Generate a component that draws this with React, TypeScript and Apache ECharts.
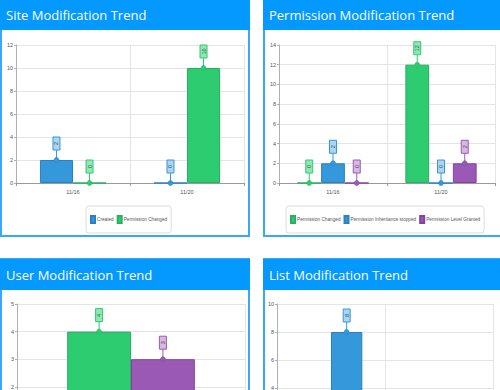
import React, { useEffect, useRef } from "react";
import * as echarts from "echarts";

// ---- data ----
const siteCategories = ["11/16", "11/20"];
const siteCreated = [2, 0];
const sitePermissionChanged = [0, 10];

const permCategories = ["11/16", "11/20"];
const permChanged = [0, 12];
const permInheritanceStopped = [2, 0];
const permLevelGranted = [0, 2];

const userCategories = ["11/20"];
const userPermissionChanged = [4];
const userPermissionLevelGranted = [3];

const listCategories = ["11/16", "11/20"];
const listPermissionChanged = [0, 0];
const listCreated = [8, 0];

const titles = [
  "Site Modification Trend",
  "Permission Modification Trend",
  "User Modification Trend",
  "List Modification Trend",
];
const yMax = [12, 14, 5, 10];
const yInterval = [2, 2, 1, 2];

const PAL: Record<string, { fill: string; border: string; light: string }> = {
  blue: { fill: "#3498db", border: "#2a80c4", light: "#aad5f3" },
  green: { fill: "#2ecc71", border: "#27b062", light: "#8ee8b2" },
  purple: { fill: "#9b59b6", border: "#8244a0", light: "#d6b8e2" },
};

type SDef = { name: string; data: number[]; color: string };

const panels: { cats: string[]; series: SDef[]; ratio: number }[] = [
  {
    cats: siteCategories,
    ratio: 0.29,
    series: [
      { name: "Created", data: siteCreated, color: "blue" },
      { name: "Permission Changed", data: sitePermissionChanged, color: "green" },
    ],
  },
  {
    cats: permCategories,
    ratio: 0.22,
    series: [
      { name: "Permission Changed", data: permChanged, color: "green" },
      { name: "Permission Inheritance stopped", data: permInheritanceStopped, color: "blue" },
      { name: "Permission Level Granted", data: permLevelGranted, color: "purple" },
    ],
  },
  {
    cats: userCategories,
    ratio: 0.28,
    series: [
      { name: "Permission Changed", data: userPermissionChanged, color: "green" },
      { name: "Permission Level Granted", data: userPermissionLevelGranted, color: "purple" },
    ],
  },
  {
    cats: listCategories,
    ratio: 0.29,
    series: [
      { name: "Permission Changed", data: listPermissionChanged, color: "green" },
      { name: "Created", data: listCreated, color: "blue" },
    ],
  },
];

const grids = [
  { left: 16, top: 45, width: 228, height: 138 },
  { left: 279, top: 45, width: 216, height: 138 },
  { left: 17, top: 304, width: 228, height: 138 },
  { left: 277, top: 304, width: 216, height: 140 },
];

const legendPos = [
  { left: 86, top: 206 },
  { left: 286, top: 206 },
  { left: 70, top: 465 },
  { left: 320, top: 465 },
];

const panelBoxes = [
  { x: 0, y: 0, w: 250, h: 237, hh: 30 },
  { x: 263, y: 0, w: 240, h: 237, hh: 30 },
  { x: 0, y: 259, w: 250, h: 240, hh: 31 },
  { x: 263, y: 259, w: 240, h: 240, hh: 31 },
];

const HEADER = "#0399fe";
const BORDER = "#3aa8f8";
const SMALL_FONT = "'Liberation Sans', sans-serif";

function buildOption() {
  const xAxis: any[] = [];
  const yAxis: any[] = [];
  const series: any[] = [];
  const legend: any[] = [];
  const graphic: any[] = [];

  panelBoxes.forEach((p, i) => {
    graphic.push({
      type: "rect",
      shape: { x: p.x + 1, y: p.y, width: p.w - 2, height: p.h - 1 },
      style: { fill: "none", stroke: BORDER, lineWidth: 2 },
      z: 1,
    });
    graphic.push({
      type: "rect",
      shape: { x: p.x, y: p.y, width: p.w, height: p.hh },
      style: { fill: HEADER },
      z: 2,
    });
    graphic.push({
      type: "text",
      x: p.x + 6,
      y: p.y + p.hh / 2,
      style: {
        text: titles[i],
        fill: "#ffffff",
        font: "13px 'Open Sans', sans-serif",
        verticalAlign: "middle",
        align: "left",
      },
      z: 3,
    });
  });

  panels.forEach((panel, gi) => {
    xAxis.push({
      type: "category",
      gridIndex: gi,
      data: panel.cats,
      axisLine: { show: true, lineStyle: { color: "#9a9a9a", width: 1 } },
      axisTick: { show: true, length: 3, lineStyle: { color: "#9a9a9a" } },
      axisLabel: { fontSize: 5.5, color: "#555", margin: 6, fontFamily: SMALL_FONT },
      splitLine: { show: true, lineStyle: { color: "#e4e4e4" } },
    });
    yAxis.push({
      type: "value",
      gridIndex: gi,
      min: 0,
      max: yMax[gi],
      interval: yInterval[gi],
      axisLine: { show: true, lineStyle: { color: "#b0b0b0" } },
      axisTick: { show: true, length: 2, lineStyle: { color: "#b0b0b0" } },
      axisLabel: { fontSize: 5.5, color: "#555", margin: 3, fontFamily: SMALL_FONT },
      splitLine: { show: true, lineStyle: { color: "#e4e4e4" } },
    });
    const n = panel.series.length;
    panel.series.forEach((s, si) => {
      const c = PAL[s.color];
      series.push({
        type: "bar",
        name: s.name,
        xAxisIndex: gi,
        yAxisIndex: gi,
        data: s.data,
        barWidth: panel.ratio * 100 + "%",
        barGap: "0%",
        itemStyle: { color: c.fill, borderColor: c.border, borderWidth: 1 },
        z: 2,
      });
      series.push({
        type: "custom",
        name: "_label_" + gi + "_" + si,
        xAxisIndex: gi,
        yAxisIndex: gi,
        data: s.data.map((v, ci) => [ci, v]),
        encode: { x: 0, y: 1 },
        z: 5,
        clip: false,
        renderItem: (params: any, api: any) => {
          const ci = api.value(0);
          const v = api.value(1);
          const pt = api.coord([ci, v]);
          const cw = api.size([1, 0])[0];
          const w = cw * panel.ratio;
          const x = pt[0] + (si - (n - 1) / 2) * w;
          const y = pt[1];
          return {
            type: "group",
            children: [
              {
                type: "line",
                shape: { x1: x, y1: y, x2: x, y2: y - 10 },
                style: { stroke: c.fill, lineWidth: 1 },
              },
              {
                type: "circle",
                shape: { cx: x, cy: y, r: 2.5 },
                style: { fill: c.fill, stroke: c.border, lineWidth: 0.5 },
              },
              {
                type: "rect",
                shape: { x: x - 3.5, y: y - 23, width: 7, height: 13 },
                style: { fill: c.light, stroke: c.fill, lineWidth: 1 },
              },
              {
                type: "text",
                x: x,
                y: y - 16.5,
                rotation: Math.PI / 2,
                style: {
                  text: String(v),
                  fill: "#444",
                  fontSize: 5.5,
                  fontFamily: SMALL_FONT,
                  align: "center",
                  verticalAlign: "middle",
                },
              },
            ],
          };
        },
      });
    });
    legend.push({
      left: legendPos[gi].left,
      top: legendPos[gi].top,
      orient: "horizontal",
      width: 300,
      data: panel.series.map((s) => s.name),
      icon: "rect",
      itemWidth: 4,
      itemHeight: 7,
      itemGap: 3,
      padding: [9, 4, 9, 4],
      borderColor: "#dcdcdc",
      borderWidth: 1,
      borderRadius: 3,
      selectedMode: false,
      textStyle: { fontSize: 4.7, color: "#555", fontFamily: SMALL_FONT, padding: [0, 0, 0, -3] },
    });
  });

  return {
    animation: false,
    backgroundColor: "#ffffff",
    grid: grids.map((g) => ({ ...g, containLabel: false })),
    xAxis,
    yAxis,
    series,
    legend,
    graphic,
  };
}

export default function App() {
  const ref = useRef<HTMLDivElement>(null);
  useEffect(() => {
    if (!ref.current) return;
    const chart = echarts.init(ref.current, undefined, { renderer: "svg" });
    chart.setOption(buildOption() as any);
    return () => chart.dispose();
  }, []);
  return (
    <div
      style={{
        position: "fixed",
        left: 0,
        top: 0,
        width: 500,
        height: 390,
        overflow: "hidden",
        background: "#fff",
      }}
    >
      <div ref={ref} style={{ width: 500, height: 520 }} />
    </div>
  );
}
